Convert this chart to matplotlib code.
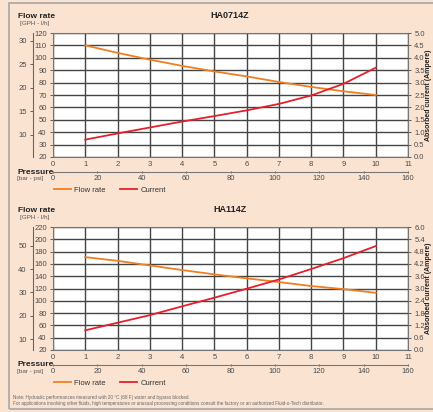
import numpy as np
import matplotlib.pyplot as plt
from matplotlib.lines import Line2D
from matplotlib.patches import Rectangle

plt.rcParams['font.family'] = ['Liberation Sans Narrow', 'Liberation Sans', 'DejaVu Sans']

# pressure points [bar]
bar = [1, 2, 3, 4, 5, 6, 7, 8, 9, 10]

# HA0714Z
flow_0714 = [110, 104, 98.5, 93.5, 89, 85, 80.5, 76.5, 73, 70]        # l/h
current_0714 = [0.7, 0.95, 1.19, 1.43, 1.65, 1.88, 2.14, 2.48, 2.95, 3.6]  # A

# HA114Z
flow_114 = [171, 165, 157.5, 150, 143, 136.5, 130.5, 124, 119, 113]
current_114 = [0.96, 1.33, 1.7, 2.13, 2.55, 2.99, 3.44, 3.95, 4.48, 5.07]

charts = [
    dict(title="HA0714Z", flow=flow_0714, cur=current_0714,
         lh_ticks=list(range(20, 121, 10)), gph_ticks=[10, 15, 20, 25, 30],
         a_ticks=[i * 0.5 for i in range(11)], a_max=5.0),
    dict(title="HA114Z", flow=flow_114, cur=current_114,
         lh_ticks=list(range(20, 221, 20)), gph_ticks=[10, 20, 30, 40, 50],
         a_ticks=[i * 0.6 for i in range(11)], a_max=6.0),
]

W, H = 433, 412
bg = '#fbe3d2'
orange = '#f07f22'
red = '#e5202b'
tick_col = '#4a4a4a'
grid_col = '#444444'

fig = plt.figure(figsize=(W / 100, H / 100), dpi=100, facecolor=bg)

# grey frame
fig.patches.append(Rectangle((9 / W, 1 - 409 / H), 1.0, (409 - 3) / H,
                             transform=fig.transFigure, fill=False,
                             edgecolor='#a8a8a8', lw=1.2))

ax_left, ax_right = 53, 408
tops = [33, 227]
bottoms = [157, 350]

for k, c in enumerate(charts):
    t, b = tops[k], bottoms[k]
    ax = fig.add_axes([ax_left / W, 1 - b / H, (ax_right - ax_left) / W, (b - t) / H])
    ax.set_facecolor('white')
    lo, hi = c['lh_ticks'][0], c['lh_ticks'][-1]
    ax.set_xlim(0, 11)
    ax.set_ylim(lo, hi)
    ax.set_xticks(range(12))
    ax.set_yticks(c['lh_ticks'])
    ax.grid(True, color=grid_col, lw=1.0)
    ax.set_axisbelow(True)
    for s in ax.spines.values():
        s.set_color('#777777')
        s.set_linewidth(0.8)
    ax.tick_params(axis='both', labelsize=5.5, colors=tick_col, length=2.5, width=0.6, pad=2)
    ax.tick_params(axis='x', length=0, pad=3)

    ax.plot(bar, c['flow'], color=orange, lw=1.3, zorder=3)

    ax2 = ax.twinx()
    ax2.set_ylim(0, c['a_max'])
    ax2.set_yticks(c['a_ticks'])
    ax2.set_yticklabels(['%.1f' % v for v in c['a_ticks']])
    ax2.tick_params(axis='y', labelsize=5.5, colors=tick_col, length=2.5, width=0.6, pad=2)
    for s in ax2.spines.values():
        s.set_visible(False)
    ax2.plot(bar, c['cur'], color=red, lw=1.3, zorder=3)

    # GPH axis
    gph = ax.secondary_yaxis(-20 / (ax_right - ax_left),
                             functions=(lambda l: l / 3.785, lambda g: g * 3.785))
    gph.set_yticks(c['gph_ticks'])
    gph.tick_params(labelsize=5.5, colors=tick_col, length=2.5, width=0.6, pad=2)
    gph.spines['left'].set_color('#666666')
    gph.spines['left'].set_linewidth(0.8)

    # psi axis (chart scale puts 160 psi at the 11 bar edge)
    psi = ax.secondary_xaxis(-(15) / (b - t),
                             functions=(lambda x: x * 160 / 11, lambda p: p * 11 / 160))
    psi.set_xticks(range(0, 161, 20))
    psi.tick_params(labelsize=5.5, colors=tick_col, length=2, width=0.6, pad=1.5,
                    direction='inout')
    psi.spines['bottom'].set_color('#777777')
    psi.spines['bottom'].set_linewidth(0.8)

    # texts
    fig.text(230 / W, 1 - (t - 18) / H, c['title'], ha='center', va='center',
             fontsize=6.5, fontweight='bold', color='#222222')
    fig.text(18 / W, 1 - (t - 17) / H, "Flow rate", ha='left', va='center',
             fontsize=6, fontweight='bold', color='#222222')
    fig.text(20 / W, 1 - (t - 9) / H, "[GPH - l/h]", ha='left', va='center',
             fontsize=4.5, color='#555555')
    fig.text(17 / W, 1 - (b + 15) / H, "Pressure", ha='left', va='center',
             fontsize=6, fontweight='bold', color='#222222')
    fig.text(17 / W, 1 - (b + 22) / H, "[bar - psi]", ha='left', va='center',
             fontsize=4.5, color='#555555')
    fig.text(428 / W, 1 - (t + b) / 2 / H, "Absorbed current (Ampere)", ha='center',
             va='center', rotation=90, fontsize=5, fontweight='bold', color='#222222')

    handles = [Line2D([], [], color=orange, lw=1.3), Line2D([], [], color=red, lw=1.3)]
    fig.legend(handles, ["Flow rate", "Current"], loc='center left',
               bbox_to_anchor=(50 / W, 1 - (b + 33) / H), frameon=False, ncol=2,
               fontsize=5.5, handlelength=2.2, handletextpad=0.5, columnspacing=1.8,
               borderpad=0, labelcolor='#333333')

fig.text(13 / W, 1 - 398 / H,
         "Note: Hydraulic performances measured with 20 °C (68 F) water and bypass blocked.",
         fontsize=3.3, color='#666666', va='center')
fig.text(13 / W, 1 - 404 / H,
         "For applications involving other fluids, high temperatures or unusual processing "
         "conditions consult the factory or an authorized Fluid-o-Tech distributor.",
         fontsize=3.3, color='#666666', va='center')

fig.savefig("out.png", dpi=100, facecolor=bg)
